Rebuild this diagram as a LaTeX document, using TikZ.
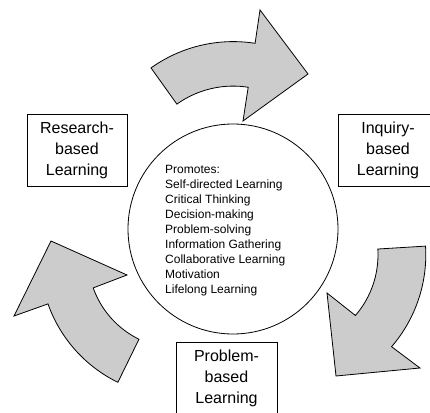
\documentclass[tikz,border=0pt]{standalone}
\usepackage{fontspec}
\setmainfont{Liberation Sans}
\definecolor{arrowgray}{RGB}{204,204,204}
\begin{document}
\begin{tikzpicture}[x=1pt,y=-1pt,
  bigarrow/.style={draw=black, fill=arrowgray, line width=0.8pt, line join=miter},
  labelbox/.style={draw=black, line width=0.8pt, minimum width=100pt, minimum height=72pt, inner sep=0pt, align=center, font=\fontsize{16}{21}\selectfont},
  hubcircle/.style={draw=black, circle, line width=0.8pt, minimum size=210pt, inner sep=0pt},
  listtext/.style={align=left, inner sep=0pt, font=\fontsize{12}{15}\selectfont}]
\useasboundingbox (0,0) rectangle (430,412);
\fill[white] (0,0) rectangle (430,412);
% curved arrows
\draw[bigarrow] plot[domain=-125.5:-81.1,samples=40] ({233.2+97*cos(\x)},{183.1+97*sin(\x)})
  -- (243,121) -- (308,74) -- (260,10)
  -- plot[domain=-81.1:-125.5,samples=40] ({233.2+141.5*cos(\x)},{183.1+141.5*sin(\x)}) -- cycle;
\draw[bigarrow] plot[domain=-3.5:40.8,samples=40] ({285+93*cos(\x)},{254.7+93*sin(\x)})
  -- (327,293) -- (336,376) -- (420,368)
  -- plot[domain=40.8:-3.5,samples=40] ({285+140.8*cos(\x)},{254.7+140.8*sin(\x)}) -- cycle;
\draw[bigarrow] plot[domain=116.1:160.5,samples=40] ({179+91*cos(\x)},{257.5+91*sin(\x)})
  -- (127,275) -- (51,241) -- (14,316)
  -- plot[domain=160.5:116.1,samples=40] ({179+139*cos(\x)},{257.5+139*sin(\x)}) -- cycle;
% central circle
\node[hubcircle] (hub) at (233,229) {};
\node[listtext, anchor=north west] (promotes) at (165,165.5) {Promotes:\\Self-directed Learning\\Critical Thinking\\Decision-making\\Problem-solving\\Information Gathering\\Collaborative Learning\\Motivation\\Lifelong Learning};
% boxes
\node[labelbox] (research) at (77,150) {Research-\\based\\Learning};
\node[labelbox] (inquiry) at (388,150) {Inquiry-\\based\\Learning};
\node[labelbox, minimum width=101pt] (problem) at (226.5,378) {Problem-\\based\\Learning};
\end{tikzpicture}
\end{document}
